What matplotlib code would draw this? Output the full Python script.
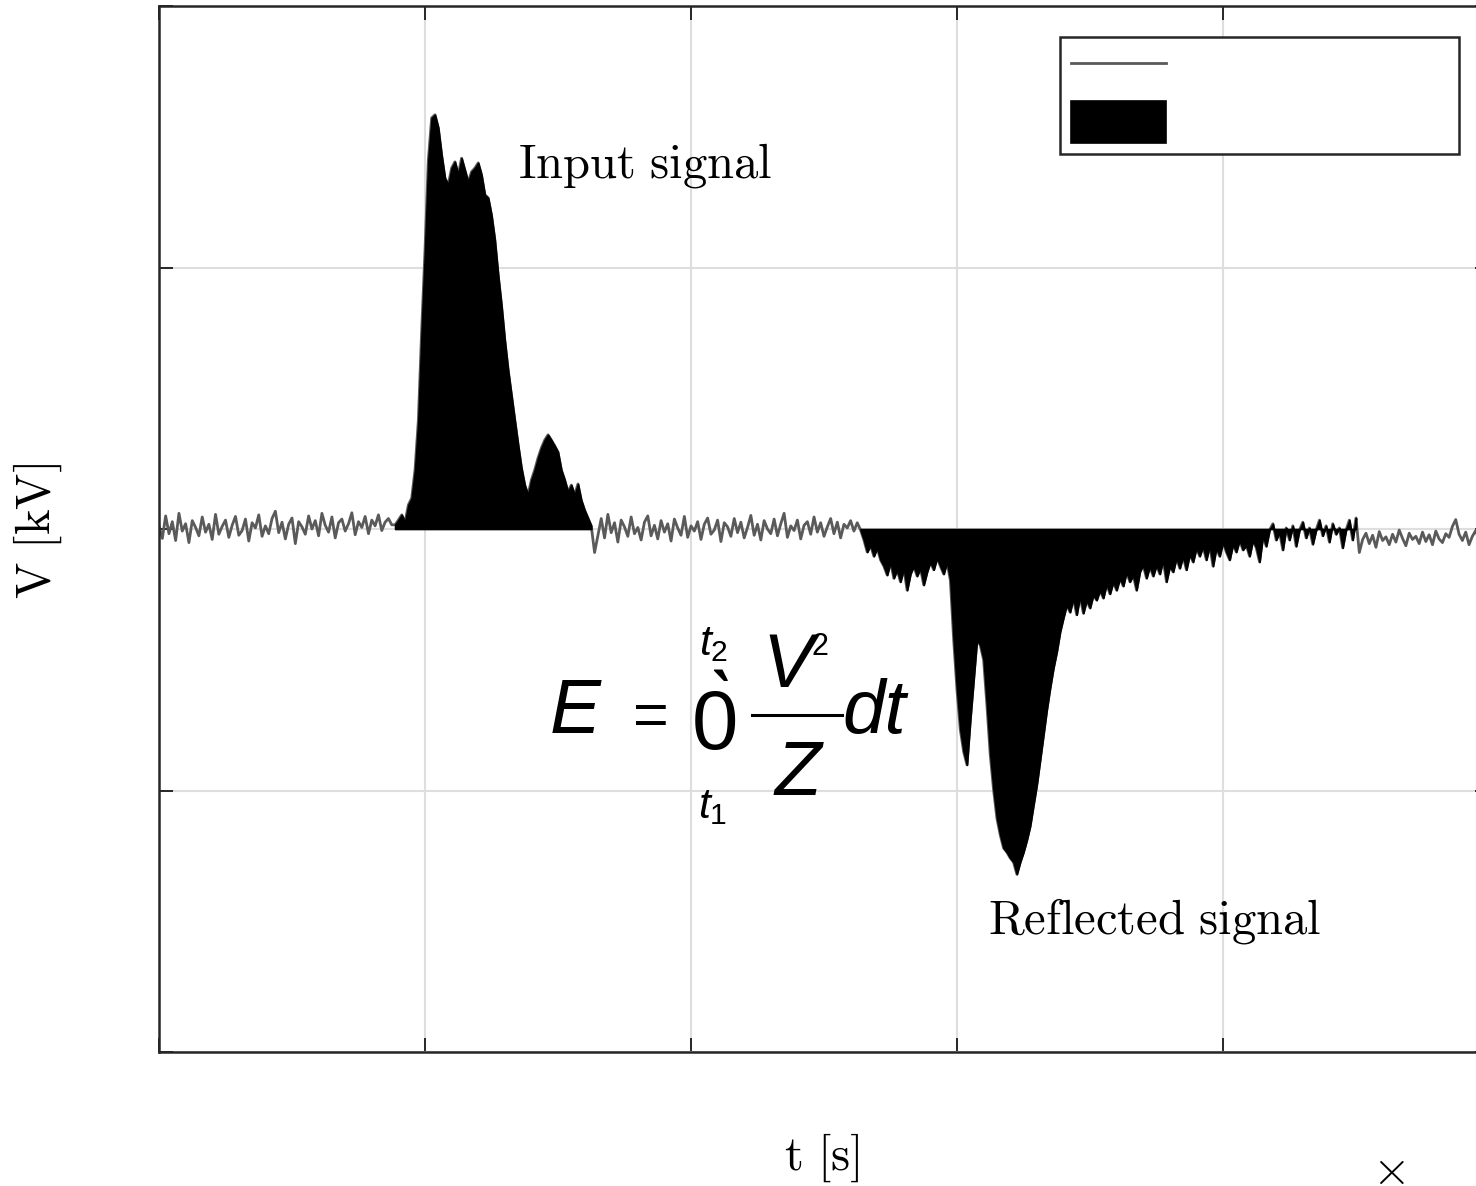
import numpy as np
import matplotlib.pyplot as plt
from matplotlib.lines import Line2D

# -----------------------------------------------------------------------------
# Configuration
# -----------------------------------------------------------------------------

W_PX, H_PX = 1476, 1186
DPI = 100

LINE_COLOR = "#5a5a5a"
FILL_COLOR = "#000000"
AXIS_COLOR = "#262626"
GRID_COLOR = "#dedede"

SERIF_SIZE = 35
FORMULA_FONT = "Liberation Sans"

plt.rcParams["mathtext.fontset"] = "custom"
plt.rcParams["mathtext.rm"] = FORMULA_FONT
plt.rcParams["mathtext.it"] = FORMULA_FONT + ":italic"

# -----------------------------------------------------------------------------
# Data (voltage samples in V, uniform time step)
# -----------------------------------------------------------------------------

DT = 0.0125

# baseline noise before the input pulse
SEG_PRE = [
    6, -18, 25, -9, 14, -22, 30, -4, 10, -26,
    16, 3, -13, 23, -6, 9, -20, 28, -10, 5,
    17, -16, 7, 24, -12, -3, 19, -23, 12, 2,
    27, -14, 6, -9, 20, 34, -7, 13, -19, 9,
    21, -28, 14, 4, -10, 25, 0, 16, -13, 30,
    7, -6, 23, -17, 12, 19, -4, 10, 31, -11,
    14, 3, 24, -9, 17, 6, 27, -3, 13, 20, 8,
]

# input pulse (filled)
SEG_INPUT = [
    8, 17, 27, 13, 46, 59, 113, 208, 380, 533,
    705, 786, 792, 767, 715, 671, 658, 690, 702, 677,
    709, 686, 663, 683, 690, 700, 677, 639, 633, 600,
    553, 486, 428, 361, 304, 256, 208, 161, 117, 84,
    65, 94, 113, 136, 155, 170, 180, 170, 159, 147,
    113, 94, 71, 84, 65, 86, 55, 36, 21, 6,
]

# noise between the two pulses
SEG_MID = [
    -45, -12, 20, -17, 28, -7, 12, -25, 17, 4,
    -14, 23, -9, 3, -21, 13, 25, -13, 7, -19,
    16, -6, 10, -23, 19, 2, -12, 24, -16, 6,
    -4, 14, -20, 9, 21, -10, -2, 17, -24, 12,
    4, -14, 20, -7, 13, -17, 3, 26, -12, 9,
    -21, 16, 0, -9, 19, -13, 10, 30, -16, 6,
    -3, 17, -19, 7, 14, -10, 23, -6, 12, -14,
    4, 20, -9, 13, -17, 9, 2, 16, -4, 12,
]

# reflected pulse (filled)
SEG_REFLECTED = [
    -2, -21, -44, -31, -52, -36, -59, -71, -88, -63,
    -94, -78, -101, -75, -117, -86, -71, -90, -75, -107,
    -82, -63, -78, -55, -71, -86, -63, -98, -212, -308,
    -384, -426, -451, -365, -289, -212, -222, -250, -337, -432,
    -499, -553, -585, -610, -618, -629, -637, -660, -637, -618,
    -595, -568, -528, -489, -442, -394, -346, -304, -266, -235,
    -197, -170, -145, -159, -132, -164, -128, -161, -136, -151,
    -126, -136, -117, -132, -105, -124, -101, -117, -94, -109,
    -82, -101, -88, -117, -82, -69, -94, -71, -90, -69,
    -86, -59, -101, -71, -82, -55, -75, -52, -78, -48,
    -63, -36, -52, -33, -59, -31, -71, -36, -52, -25,
    -44, -59, -29, -44, -21, -40, -31, -52, -21, -36,
    -63, -13, -33, -2, 10, -21, -6, -40, 2, -21,
    6, -33, -2, 13, -17, 2, -29, -2, 17, -13,
    6, -25, 10, -10, 2, -36, -2, 17, -21, 21,
]

# tail noise
SEG_POST = [
    -45, -20, -8, -28, -12, -35, -5, -22, -15, -30,
    -10, -25, -2, -18, -32, -8, -20, -14, -28, -6,
    -24, -11, -30, -4, -19, -26, -9, -16, 5, 18,
    -10, -22, -6, -30, -14, -3, -20, -12, -25,
]

X_TICKS = [0, 1, 2, 3, 4, 5]
Y_TICKS = [-1, -0.5, 0, 0.5, 1]

# -----------------------------------------------------------------------------
# Helpers
# -----------------------------------------------------------------------------


def put(fig, x_px, y_px, s, **kw):
    kw.setdefault("va", "baseline")
    kw.setdefault("ha", "center")
    fig.text(x_px / W_PX, 1 - y_px / H_PX, s, **kw)


def serif(fig, x_px, y_px, s, **kw):
    put(fig, x_px, y_px, s, fontsize=SERIF_SIZE, math_fontfamily="cm", **kw)


def sans(fig, x_px, y_px, s, size, italic=False):
    put(fig, x_px, y_px, s, fontsize=size, family=FORMULA_FONT,
        style="italic" if italic else "normal")


# -----------------------------------------------------------------------------
# Plot
# -----------------------------------------------------------------------------


def plot():
    segments = [SEG_PRE, SEG_INPUT, SEG_MID, SEG_REFLECTED, SEG_POST]
    volts = np.concatenate([np.array(s, dtype=float) for s in segments]) / 1000.0
    t = np.arange(len(volts)) * DT

    bounds = np.cumsum([0] + [len(s) for s in segments])

    fig = plt.figure(figsize=(W_PX / DPI, H_PX / DPI), dpi=DPI)
    ax = fig.add_axes([159 / W_PX, 134 / H_PX, 1330 / W_PX, 1046 / H_PX])

    (line,) = ax.plot(t, volts, color=LINE_COLOR, lw=2.0, zorder=2)

    fills = []
    for k in (1, 3):
        sl = slice(bounds[k], bounds[k + 1])
        fills.append(
            ax.fill_between(t[sl], volts[sl], 0, facecolor=FILL_COLOR,
                            edgecolor=FILL_COLOR, lw=1.2, zorder=3)
        )

    ax.set_xlim(0, 5)
    ax.set_ylim(-1, 1)
    ax.set_xticks(X_TICKS)
    ax.set_yticks(Y_TICKS)
    ax.tick_params(direction="in", length=10, width=1.4, color=AXIS_COLOR,
                   top=True, right=True, labelbottom=False, labelleft=False)
    for sp in ax.spines.values():
        sp.set_color(AXIS_COLOR)
        sp.set_linewidth(1.8)
    ax.grid(True, color=GRID_COLOR, lw=1.5)
    ax.set_axisbelow(True)

    leg = ax.legend(
        [line, fills[0]], ["", ""],
        loc="upper left",
        bbox_to_anchor=(0.6774, 0.8585, 0.3, 0.1119),
        mode="expand",
        borderaxespad=0,
        fontsize=20,
        handlelength=3.42,
        handleheight=1.95,
        labelspacing=0.4,
        borderpad=0.4,
        fancybox=False,
        framealpha=1,
    )
    leg.get_frame().set_edgecolor(AXIS_COLOR)
    leg.get_frame().set_linewidth(1.8)

    # axis labels and annotations (serif, Computer Modern)
    serif(fig, 38, 531, r"$\mathrm{V\ [kV]}$", rotation=90, va="center")
    serif(fig, 822, 1158, r"$\mathrm{t\ [s]}$", va="center")
    serif(fig, 1388, 1170, r"$\times$", va="center")
    serif(fig, 518, 178, r"$\mathrm{Input\ signal}$", ha="left")
    serif(fig, 988, 933, r"$\mathrm{Reflected\ signal}$", ha="left")

    # energy formula
    sans(fig, 575, 733, "E", 55, italic=True)
    sans(fig, 651, 735, "=", 44)
    put(fig, 714, 750, r"$\grave{0}$", fontsize=60)
    put(fig, 714, 655, r"$t_2$", fontsize=31)
    put(fig, 713, 818, r"$t_1$", fontsize=31)
    sans(fig, 788, 687, "V", 55, italic=True)
    sans(fig, 820, 655, "2", 22)
    fig.add_artist(Line2D([752 / W_PX, 842 / W_PX], [1 - 715 / H_PX] * 2,
                          color="black", lw=2.2))
    sans(fig, 798, 795, "Z", 55, italic=True)
    sans(fig, 874, 733, "dt", 55, italic=True)

    fig.savefig("out.png", dpi=DPI)
    plt.close(fig)


if __name__ == "__main__":
    plot()
